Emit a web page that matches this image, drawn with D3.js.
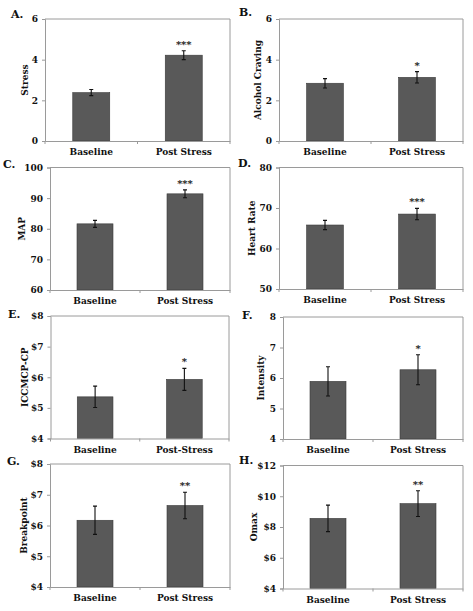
<!DOCTYPE html>
<html>
<head>
<meta charset="utf-8">
<script src="https://cdn.jsdelivr.net/npm/d3@7"></script>
<style>
  html, body { margin: 0; padding: 0; background: #fff; }
  svg { display: block; }
  text { font-family: "DejaVu Serif", Georgia, serif; font-weight: bold; fill: #111; }
</style>
</head>
<body>
<svg id="chart" width="473" height="611"></svg>
<script>
// ---------------- data ----------------
const panelLabels = ["A.", "B.", "C.", "D.", "E.", "F.", "G.", "H."];
const yTitles = ["Stress", "Alcohol Craving", "MAP", "Heart Rate", "ICCMCP-CP", "Intensity", "Breakpoint", "Omax"];
const categories = ["Baseline", "Post Stress"];
const categoriesE = ["Baseline", "Post-Stress"];
const baselineMeans = [2.38, 2.84, 81.6, 65.8, 5.36, 5.89, 6.17, 8.56];
const postMeans     = [4.22, 3.13, 91.4, 68.5, 5.93, 6.27, 6.65, 9.52];
const baselineErr   = [0.15, 0.23, 1.15, 1.15, 0.35, 0.48, 0.46, 0.86];
const postErr       = [0.22, 0.28, 1.30, 1.40, 0.36, 0.49, 0.43, 0.84];
const significance  = ["***", "*", "***", "***", "*", "*", "**", "**"];
const yMins  = [0, 0, 60, 50, 4, 4, 4, 4];
const yMaxs  = [6, 6, 100, 80, 8, 8, 8, 12];
const yTickValues = [
  [0, 2, 4, 6], [0, 2, 4, 6],
  [60, 70, 80, 90, 100], [50, 60, 70, 80],
  [4, 5, 6, 7, 8], [4, 5, 6, 7, 8],
  [4, 5, 6, 7, 8], [4, 6, 8, 10, 12]
];
const dollarAxis = [false, false, false, false, true, false, true, true];

// ---------------- layout ----------------
const frames = [
  {l: 45,  r: 230, t: 19,    b: 141},
  {l: 279, r: 463, t: 19,    b: 141},
  {l: 50,  r: 230, t: 167.5, b: 290},
  {l: 279, r: 463, t: 167.5, b: 289},
  {l: 50.5,r: 229, t: 316,   b: 438.5},
  {l: 283, r: 463, t: 317,   b: 439},
  {l: 50,  r: 230, t: 464,   b: 587},
  {l: 283, r: 463, t: 465.5, b: 588.5}
];
const labelPos = [
  {x: 11, y: 18}, {x: 239, y: 16},
  {x: 3, y: 168}, {x: 238, y: 167},
  {x: 8, y: 318}, {x: 242, y: 319},
  {x: 7, y: 465}, {x: 239, y: 464}
];
const titleX = [25, 258, 22, 252, 25, 261, 24, 254];

const svg = d3.select("#chart");
const frameColor = "#9a9a9a";
const barFill = "#595959";
const barStroke = "#3a3a3a";

frames.forEach((f, i) => {
  const g = svg.append("g");
  const cats = i === 4 ? categoriesE : categories;
  const x = d3.scaleBand().domain(cats).range([f.l, f.r]).paddingInner(0.6).paddingOuter(0.3);
  const y = d3.scaleLinear().domain([yMins[i], yMaxs[i]]).range([f.b, f.t]);
  const means = [baselineMeans[i], postMeans[i]];
  const errs = [baselineErr[i], postErr[i]];
  const data = cats.map((c, k) => ({cat: c, mean: means[k], err: errs[k]}));

  // frame (top and right)
  g.append("path")
    .attr("d", `M${f.l},${f.t}H${f.r}V${f.b}`)
    .attr("fill", "none").attr("stroke", frameColor).attr("stroke-width", 1);

  // bars
  g.selectAll("rect.bar").data(data).join("rect")
    .attr("class", "bar")
    .attr("x", d => x(d.cat))
    .attr("width", x.bandwidth())
    .attr("y", d => y(d.mean))
    .attr("height", d => y(yMins[i]) - y(d.mean))
    .attr("fill", barFill).attr("stroke", barStroke).attr("stroke-width", 0.6);

  // error bars
  const cap = 2;
  data.forEach(d => {
    const cx = x(d.cat) + x.bandwidth() / 2;
    const y1 = y(d.mean + d.err), y0 = y(d.mean - d.err);
    g.append("path")
      .attr("d", `M${cx},${y1}V${y0}M${cx - cap},${y1}H${cx + cap}M${cx - cap},${y0}H${cx + cap}`)
      .attr("stroke", "#111").attr("stroke-width", 1.1).attr("fill", "none");
  });

  // significance stars
  const post = data[1];
  g.append("text")
    .attr("x", x(post.cat) + x.bandwidth() / 2)
    .attr("y", y(post.mean + post.err) - 3)
    .attr("text-anchor", "middle")
    .style("font-size", "10px")
    .text(significance[i]);

  // y axis
  const fmt = dollarAxis[i] ? (v => "$" + v) : (v => String(v));
  const ya = g.append("g").attr("transform", `translate(${f.l},0)`)
    .call(d3.axisLeft(y).tickValues(yTickValues[i]).tickFormat(fmt).tickSize(3).tickPadding(4));
  ya.select(".domain").attr("stroke", frameColor);
  ya.selectAll(".tick line").attr("stroke", frameColor);
  ya.selectAll(".tick text").style("font-size", "9px")
    .style("font-family", "'DejaVu Serif', Georgia, serif").style("font-weight", "bold").attr("fill", "#111");

  // x axis
  const xa = g.append("g").attr("transform", `translate(0,${f.b})`)
    .call(d3.axisBottom(x).tickSize(0).tickPadding(8));
  xa.select(".domain").attr("stroke", frameColor);
  xa.selectAll(".tick text").style("font-size", "9px")
    .style("font-family", "'DejaVu Serif', Georgia, serif").style("font-weight", "bold").attr("fill", "#111");
  // boundary ticks between categories (Excel style)
  const bounds = [f.l, (f.l + f.r) / 2, f.r];
  g.selectAll("line.bt").data(bounds).join("line")
    .attr("class", "bt")
    .attr("x1", d => d).attr("x2", d => d)
    .attr("y1", f.b).attr("y2", f.b + 3)
    .attr("stroke", frameColor);

  // y title
  g.append("text")
    .attr("transform", `translate(${titleX[i]},${(f.t + f.b) / 2}) rotate(-90)`)
    .attr("text-anchor", "middle")
    .attr("dy", "0.35em")
    .style("font-size", "9px")
    .text(yTitles[i]);

  // panel label
  g.append("text")
    .attr("x", labelPos[i].x).attr("y", labelPos[i].y)
    .style("font-size", "11px")
    .text(panelLabels[i]);
});
</script>
</body>
</html>
